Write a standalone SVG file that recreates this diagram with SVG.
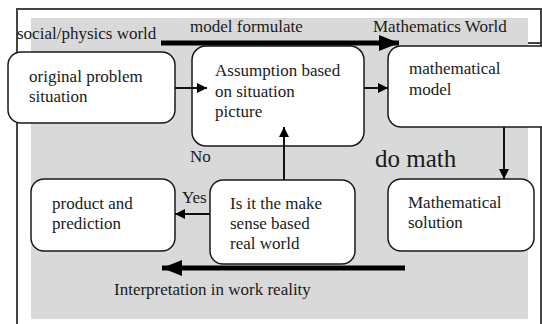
<svg xmlns="http://www.w3.org/2000/svg" width="542" height="324" viewBox="0 0 542 324" font-family="'Liberation Serif', 'Times New Roman', serif">
<defs>
<style>
text{font-family:'Liberation Serif','Times New Roman',serif;font-size:17px;fill:#1a1a1a}
.box{fill:#fff;stroke:#1a1a1a;stroke-width:1.5}
.thin{stroke:#111;stroke-width:2;fill:none}
.thick{stroke:#000;stroke-width:5;fill:none}
</style>
<marker id="ah" viewBox="0 0 10 10" refX="10" refY="5" markerWidth="10" markerHeight="10" markerUnits="userSpaceOnUse" orient="auto"><path d="M0,0 L10,5 L0,10 Z" fill="#000"/></marker>
<marker id="ahb" viewBox="0 0 20 16" refX="20" refY="8" markerWidth="20" markerHeight="16" markerUnits="userSpaceOnUse" orient="auto"><path d="M0,0 L20,8 L0,16 Z" fill="#000"/></marker>
</defs>
<rect x="0" y="0" width="542" height="324" fill="#fff"/>
<g id="frame">
<rect x="17" y="9" width="524" height="330" fill="none" stroke="#444" stroke-width="2"/>
<rect x="31" y="18" width="497" height="301" fill="#d9d9d9"/>
<line x1="528" y1="43" x2="541" y2="43" stroke="#444" stroke-width="2"/>
</g>
<g id="labels">
<text x="17" y="39">social/physics world</text>
<text x="190" y="32">model formulate</text>
<text x="373" y="32">Mathematics World</text>
<text x="375" y="167" style="font-size:25px">do math</text>
<text x="190" y="162">No</text>
<text x="182" y="203">Yes</text>
<text x="114" y="295">Interpretation in work reality</text>
</g>
<g id="original">
<rect class="box" x="8" y="52" width="167" height="71" rx="13"/>
<text x="29" y="82">original problem</text>
<text x="29" y="102">situation</text>
</g>
<g id="assumption">
<rect class="box" x="192" y="46" width="172" height="100" rx="14"/>
<text x="215" y="76">Assumption based</text>
<text x="215" y="97">on situation</text>
<text x="215" y="117">picture</text>
</g>
<g id="model">
<rect class="box" x="388" y="46" width="180" height="81" rx="13"/>
<text x="409" y="74">mathematical</text>
<text x="409" y="95">model</text>
</g>
<g id="solution">
<rect class="box" x="388" y="179" width="146" height="72" rx="13"/>
<text x="408" y="208">Mathematical</text>
<text x="408" y="228">solution</text>
</g>
<g id="sense">
<rect class="box" x="210" y="180" width="145" height="84" rx="13"/>
<text x="230" y="209">Is it the make</text>
<text x="230" y="229">sense based</text>
<text x="230" y="249">real world</text>
</g>
<g id="product">
<rect class="box" x="31" y="179" width="144" height="72" rx="13"/>
<text x="52" y="209">product and</text>
<text x="52" y="229">prediction</text>
</g>
<g id="connectors">
<line class="thick" x1="161" y1="43" x2="399" y2="43" marker-end="url(#ahb)"/>
<line class="thin" x1="175" y1="88" x2="207" y2="88" marker-end="url(#ah)"/>
<line class="thin" x1="364" y1="88" x2="388" y2="88" marker-end="url(#ah)"/>
<line class="thin" x1="504" y1="127" x2="504" y2="179" marker-end="url(#ah)"/>
<line class="thin" x1="284" y1="180" x2="284" y2="127" marker-end="url(#ah)"/>
<line class="thin" x1="210" y1="214" x2="175" y2="214" marker-end="url(#ah)"/>
<line class="thick" x1="405" y1="268" x2="162" y2="268" marker-end="url(#ahb)"/>
</g>
</svg>
